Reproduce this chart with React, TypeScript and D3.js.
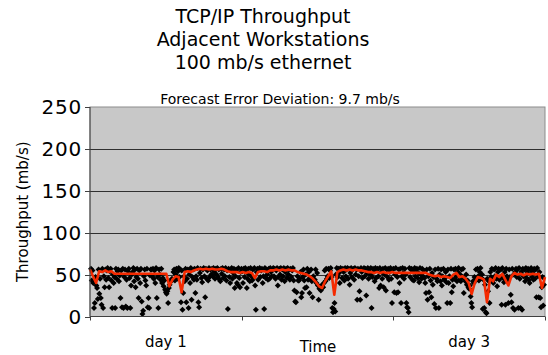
import * as React from "react";
import * as d3 from "d3";

// chart text
const titleLines = ["TCP/IP Throughput", "Adjacent Workstations", "100 mb/s ethernet"];
const subtitle = "Forecast Error Deviation: 9.7 mb/s";
const yTitle = "Throughput (mb/s)";
const xTitle = "Time";
const yTicks = [0, 50, 100, 150, 200, 250];
const days = ["day 1", "day 2", "day 3"];
const shownDays = ["day 1", "day 3"];

// measured throughput (mb/s), evenly spaced samples over the three days
const throughput = [
  // day 1
  57, 43, 55, 40, 10, 16, 47, 37, 34, 21, 56, 27, 45, 22, 14, 57, 10, 48, 35, 56,
  44, 55, 58, 46, 35, 54, 57, 43, 10, 50, 40, 47, 10, 57, 45, 54, 56, 42, 49, 22,
  55, 11, 57, 10, 47, 56, 12, 44, 10, 54, 57, 46, 10, 37, 50, 53, 58, 42, 56, 35,
  47, 57, 45, 22, 55, 40, 57, 18, 3, 7, 48, 56, 43, 37, 57, 11, 22, 10, 49, 56,
  56, 48, 57, 45, 55, 40, 58, 22, 47, 10, 56, 50, 44, 57, 40, 46, 36, 43, 32, 29,
  27, 30, 16, 34, 38, 42, 42, 45, 44, 53, 56, 43, 50, 57, 45, 54, 58, 47, 56, 17,
  55, 8, 28, 48, 42, 57, 17, 45, 56, 10, 50, 40, 58, 20, 47, 56, 44, 57, 28, 48,
  44, 58, 17, 11, 52, 57, 46, 41, 56, 58, 48, 23, 57, 45, 55, 43, 58, 47, 56, 50,
  57, 48, 58, 53, 45, 57, 50, 58, 47, 56, 44, 42, 57, 51, 58, 46, 56, 48, 58, 43,
  55, 9, 57, 47, 40, 56, 58, 45, 52, 57, 34, 48, 56, 40, 38, 58, 46, 35, 53, 57,
  // day 2
  54, 40, 57, 47, 58, 53, 34, 45, 57, 50, 42, 58, 48, 43, 56, 46, 58, 37, 8, 53,
  57, 44, 56, 58, 47, 55, 57, 40, 48, 9, 58, 46, 56, 50, 44, 57, 45, 58, 53, 48,
  56, 58, 48, 57, 45, 55, 58, 37, 47, 57, 50, 58, 44, 56, 48, 58, 42, 53, 57, 46,
  58, 50, 56, 44, 57, 47, 55, 58, 43, 31, 18, 17, 29, 48, 43, 43, 45, 53, 23, 28,
  47, 56, 43, 34, 50, 35, 57, 44, 53, 28, 46, 56, 42, 23, 48, 44, 44, 56, 40, 52,
  37, 20, 33, 36, 31, 34, 38, 35, 40, 55, 42, 57, 45, 48, 57, 46, 55, 58, 47, 10,
  5, 9, 16, 6, 50, 58, 47, 57, 52, 40, 58, 56, 46, 57, 53, 43, 58, 48, 56, 58,
  45, 57, 38, 52, 58, 47, 56, 57, 44, 58, 50, 56, 20, 57, 48, 30, 20, 58, 53, 46,
  56, 58, 48, 57, 25, 52, 58, 45, 56, 50, 58, 10, 47, 57, 53, 42, 58, 46, 56, 57,
  48, 34, 58, 37, 53, 45, 57, 35, 50, 58, 31, 56, 47, 57, 44, 53, 58, 45, 16, 56,
  // day 3
  57, 29, 50, 58, 28, 47, 29, 56, 40, 57, 16, 48, 58, 52, 45, 57, 50, 16, 11, 10,
  5, 58, 47, 56, 57, 44, 53, 43, 58, 48, 56, 57, 46, 52, 41, 58, 50, 45, 57, 48,
  55, 46, 40, 28, 56, 20, 48, 29, 57, 43, 23, 52, 38, 47, 15, 56, 10, 45, 42, 57,
  10, 50, 42, 56, 37, 48, 57, 44, 46, 53, 41, 16, 56, 40, 48, 16, 57, 29, 44, 36,
  56, 45, 57, 48, 42, 53, 58, 44, 50, 42, 56, 47, 57, 28, 45, 42, 50, 38, 43, 35,
  33, 37, 24, 16, 11, 42, 40, 47, 44, 56, 44, 57, 48, 43, 53, 58, 46, 50, 9, 44,
  10, 38, 5, 4, 45, 30, 42, 16, 53, 47, 57, 43, 40, 56, 48, 58, 45, 36, 53, 57,
  44, 47, 56, 14, 58, 46, 41, 53, 14, 57, 48, 44, 16, 56, 47, 26, 17, 57, 10, 50,
  8, 53, 57, 47, 56, 10, 58, 45, 10, 53, 8, 57, 48, 56, 42, 58, 46, 53, 57, 44,
  40, 56, 58, 47, 53, 44, 57, 45, 56, 23, 58, 48, 23, 53, 22, 11, 35, 47, 13, 38,
];

// forecast (mb/s), one value every four samples
const forecast = [
  56, 48, 40, 54, 53, 55, 53, 54, 51, 51, 51, 51, 51, 51, 51,
  51, 51, 51, 51, 51, 51, 51, 51, 51, 51, 51, 36, 44, 48, 47,
  29, 53, 54, 53, 55, 56, 57, 56, 57, 56, 57, 56, 56, 57, 56,
  54, 53, 53, 53, 52, 53, 52, 53, 52, 46, 53, 54, 54, 53, 55,
  55, 56, 55, 56, 55, 56, 55, 55, 53, 52, 51, 50, 48, 45, 41,
  36, 34, 42, 48, 54, 26, 53, 55, 56, 55, 56, 55, 56, 55, 55,
  54, 53, 53, 52, 53, 52, 53, 52, 52, 53, 52, 52, 52, 52, 52,
  52, 52, 52, 52, 52, 52, 50, 49, 48, 49, 47, 48, 47, 46, 50,
  52, 47, 48, 45, 40, 27, 40, 47, 46, 44, 17, 45, 42, 50, 47,
  51, 44, 37, 48, 52, 50, 51, 49, 51, 50, 51, 50, 51, 34, 47,
];

const W = 548;
const H = 355;
const PLOT = { left: 90, right: 545, top: 107, bottom: 316.5 };
const FONT = "'DejaVu Sans', Verdana, sans-serif";

export default function App() {
  const y = d3.scaleLinear().domain([0, 250]).range([PLOT.bottom, PLOT.top]);
  const xSample = d3
    .scaleLinear()
    .domain([0, throughput.length - 1])
    .range([PLOT.left + 1, PLOT.right - 1]);
  const xForecast = d3
    .scaleLinear()
    .domain([0, forecast.length - 1])
    .range([PLOT.left, PLOT.right]);
  const xDay = d3.scaleBand<string>().domain(days).range([PLOT.left, PLOT.right]);

  const forecastLine = d3
    .line<number>()
    .x((_, i) => xForecast(i))
    .y((v) => y(v));

  const diamond = "M0,-3L3,0L0,3L-3,0Z";
  const dayEdges = [...days.map((d) => xDay(d)!), PLOT.right];

  return (
    <svg
      width={W}
      height={H}
      style={{ position: "absolute", left: 0, top: 0, background: "#fff" }}
      fontFamily={FONT}
    >
      {/* titles */}
      {titleLines.map((t, i) => (
        <text key={t} x={263} y={23 + i * 23} textAnchor="middle" fontSize={19} fill="#000">
          {t}
        </text>
      ))}
      <text x={280} y={104} textAnchor="middle" fontSize={14} fill="#000">
        {subtitle}
      </text>

      {/* plot area */}
      <rect
        x={PLOT.left}
        y={PLOT.top}
        width={PLOT.right - PLOT.left}
        height={PLOT.bottom - PLOT.top}
        fill="#c8c8c8"
        stroke="#8c8c8c"
        strokeWidth={1}
      />
      {yTicks
        .filter((t) => t > 0 && t < 250)
        .map((t) => (
          <line
            key={`g-${t}`}
            x1={PLOT.left}
            x2={PLOT.right}
            y1={Math.round(y(t)) + 0.5}
            y2={Math.round(y(t)) + 0.5}
            stroke="#303030"
            strokeWidth={1}
          />
        ))}

      {/* measurements */}
      <g fill="#000">
        {throughput.map((v, i) => (
          <path key={i} d={diamond} transform={`translate(${xSample(i)},${y(v)})`} />
        ))}
      </g>

      {/* forecast */}
      <path
        d={forecastLine(forecast) ?? ""}
        fill="none"
        stroke="#f52a00"
        strokeWidth={2.6}
        strokeLinejoin="round"
      />

      {/* y axis */}
      <line x1={PLOT.left} x2={PLOT.left} y1={PLOT.top} y2={PLOT.bottom} stroke="#404040" />
      {yTicks.map((t) => (
        <g key={`y-${t}`}>
          <line
            x1={PLOT.left - 5}
            x2={PLOT.left}
            y1={Math.round(y(t)) + 0.5}
            y2={Math.round(y(t)) + 0.5}
            stroke="#404040"
          />
          <text
            x={82}
            y={y(t) + 7}
            textAnchor="end"
            fontSize={20}
            letterSpacing={0.8}
            fill="#000"
          >
            {t}
          </text>
        </g>
      ))}
      <text
        transform={`translate(28,${(PLOT.top + PLOT.bottom) / 2}) rotate(-90)`}
        textAnchor="middle"
        fontSize={15}
        fill="#000"
      >
        {yTitle}
      </text>

      {/* x axis */}
      <line x1={PLOT.left} x2={PLOT.right} y1={PLOT.bottom} y2={PLOT.bottom} stroke="#404040" />
      {dayEdges.map((x, i) => (
        <line
          key={`xt-${i}`}
          x1={Math.round(x) + 0.5}
          x2={Math.round(x) + 0.5}
          y1={PLOT.bottom}
          y2={PLOT.bottom + 4}
          stroke="#404040"
        />
      ))}
      {shownDays.map((d) => (
        <text
          key={d}
          x={xDay(d)! + xDay.bandwidth() / 2}
          y={347}
          textAnchor="middle"
          fontSize={15}
          fill="#000"
        >
          {d}
        </text>
      ))}
      <text x={318} y={352} textAnchor="middle" fontSize={15} fill="#000">
        {xTitle}
      </text>
    </svg>
  );
}
